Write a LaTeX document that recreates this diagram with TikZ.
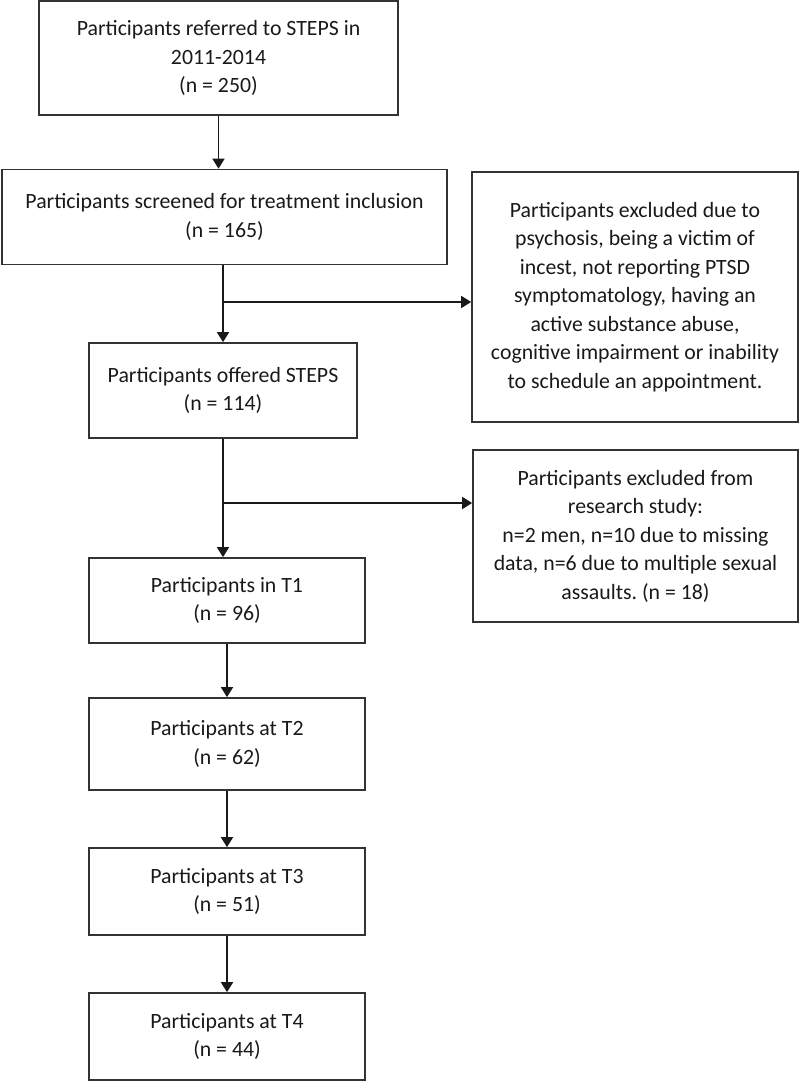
\documentclass[tikz,border=0pt]{standalone}
\usepackage{fontspec}
\setmainfont{Carlito}
\frenchspacing
\usetikzlibrary{arrows.meta}

\begin{document}
\begin{tikzpicture}[x=0.5pt,y=-0.5pt,
      box/.style={draw=black!80,line width=0.85pt,text=black!90,align=center,inner sep=0pt,
        font=\fontsize{10.9}{14.25}\selectfont},
      tbox/.style={box,minimum width=138pt},
      arr/.style={draw=black!90,line width=0.9pt,-{Triangle[length=5pt,width=6pt]}}]
      \useasboundingbox (0,0) rectangle (800,1081);

      \node[box,minimum width=179.5pt,minimum height=57pt] (ref) at (218.5,58)
        {Participants referred to STEPS in\\2011-2014\\(n = 250)};
      \node[box,minimum width=222.5pt,minimum height=47.5pt] (screen) at (224.5,217)
        {Participants screened for treatment inclusion\\(n = 165)};
      \node[box,minimum width=163pt,minimum height=125pt] (excl1) at (635,297)
        {Participants excluded due to\\psychosis, being a victim of\\incest, not reporting PTSD\\symptomatology, having an\\active substance abuse,\\cognitive impairment or inability\\to schedule an appointment.};
      \node[box,minimum width=134pt,minimum height=47.5pt] (offer) at (223,390.5)
        {Participants offered STEPS\\(n = 114)};
      \node[box,minimum width=162.5pt,minimum height=86pt] (excl2) at (635.5,536)
        {Participants excluded from\\research study:\\n=2 men, n=10 due to missing\\data, n=6 due to multiple sexual\\assaults. (n = 18)};
      \node[tbox,minimum height=42.5pt] (t1) at (227,600.5) {Participants in T1\\(n = 96)};
      \node[tbox,minimum height=46pt] (t2) at (227,744) {Participants at T2\\(n = 62)};
      \node[tbox,minimum height=43.5pt] (t3) at (227,891.5) {Participants at T3\\(n = 51)};
      \node[tbox,minimum height=43.5pt] (t4) at (227,1036.5) {Participants at T4\\(n = 44)};

      \coordinate (fork1) at (223,302);
      \coordinate (fork2) at (223,503);

      \draw[arr] (ref.south) -- (ref.south |- screen.north);
      \draw[arr] (offer.north |- screen.south) -- (offer.north);
      \draw[arr] (fork1) -- (fork1 -| excl1.west);
      \draw[arr] (offer.south) -- (offer.south |- t1.north);
      \draw[arr] (fork2) -- (fork2 -| excl2.west);
      \draw[arr] (t1.south) -- (t2.north);
      \draw[arr] (t2.south) -- (t3.north);
      \draw[arr] (t3.south) -- (t4.north);
    \end{tikzpicture}
\end{document}
